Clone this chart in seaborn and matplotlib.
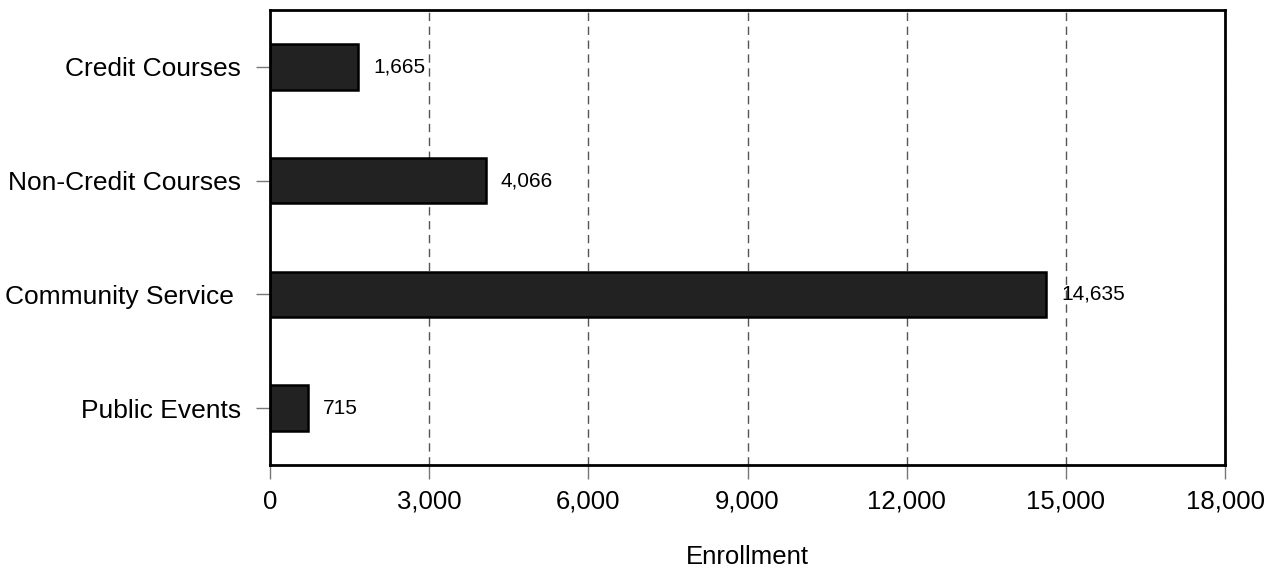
import matplotlib
matplotlib.use("Agg")
import matplotlib.pyplot as plt
import seaborn as sns
import pandas as pd

categories = ["Credit Courses", "Non-Credit Courses", "Community Service ", "Public Events"]
enrollment = [1665, 4066, 14635, 715]
x_ticks = [0, 3000, 6000, 9000, 12000, 15000, 18000]

df = pd.DataFrame({"category": categories, "enrollment": enrollment})

sns.set_style("white")
plt.rcParams["font.family"] = ["Liberation Sans", "DejaVu Sans"]
plt.rcParams["text.color"] = "black"
plt.rcParams["xtick.labelcolor"] = "black"
plt.rcParams["ytick.labelcolor"] = "black"
plt.rcParams["axes.labelcolor"] = "black"

fig = plt.figure(figsize=(12.76, 5.69), dpi=100)
ax = fig.add_axes([270 / 1276, 1 - 465 / 569, 955 / 1276, 455 / 569])

sns.barplot(data=df, x="enrollment", y="category", color="#222222",
            edgecolor="black", linewidth=1.8, width=0.4, saturation=1, ax=ax)

# value labels just right of each bar
for i, v in enumerate(enrollment):
    ax.text(v + 280, i, f"{v:,}", va="center", ha="left", fontsize=15, color="black")

ax.set_xlim(0, 18000)
ax.set_ylim(3.5, -0.5)
ax.set_xticks(x_ticks)
ax.set_xticklabels([f"{t:,}" for t in x_ticks])
ax.xaxis.grid(True, linestyle=(0, (6, 4)), color="#555555", linewidth=1)
ax.yaxis.grid(False)
ax.set_axisbelow(True)

for s in ax.spines.values():
    s.set_visible(True)
    s.set_color("black")
    s.set_linewidth(2)

ax.tick_params(axis="x", length=10, width=1, color="#777777", pad=8, labelsize=18.5, direction="out")
ax.tick_params(axis="y", length=10, width=1, color="#777777", pad=11, labelsize=19, direction="out")
ax.tick_params(bottom=True, left=True)

ax.set_ylabel("")
ax.set_xlabel("Enrollment", fontsize=18.5, labelpad=22)

fig.savefig("out.png", dpi=100)
